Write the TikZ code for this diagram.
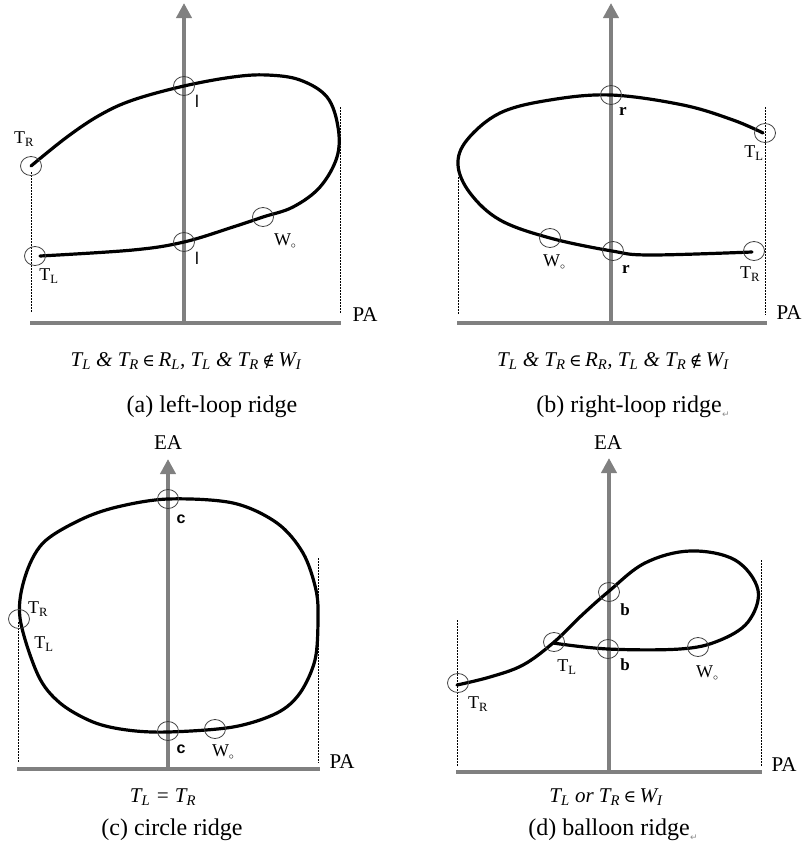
\documentclass[tikz,border=0pt]{standalone}
\usepackage{fontspec}
\setmainfont{Liberation Serif}
\newfontfamily\sansf{Liberation Sans}
\newfontfamily\dejavu{DejaVu Sans}
\newfontfamily\dvserif{DejaVu Serif}
\usetikzlibrary{arrows.meta,shapes.geometric}
\begin{document}
\begin{tikzpicture}[x=1pt,y=-1pt,
  axisline/.style={draw=black!50,line width=4pt},
  axisarrow/.style={axisline,-{Triangle[width=15pt,length=15pt]}},
  ridge/.style={draw=black,line width=3.2pt,line cap=round,line join=round},
  guide/.style={draw=black,line width=0.6pt,dash pattern=on 1.5pt off 1.5pt},
  ringmark/.style={ellipse,draw=black!75,line width=0.8pt,minimum width=21pt,minimum height=19pt,inner sep=0pt},
  lab/.style={font=\fontsize{18}{18}\selectfont,inner sep=0pt},
  axlab/.style={font=\fontsize{21}{21}\selectfont,inner sep=0pt},
  formula/.style={font=\fontsize{21}{21}\selectfont\itshape,inner sep=0pt},
  caption/.style={font=\fontsize{24}{24}\selectfont,inner sep=0pt},
  ret/.style={font=\dejavu\fontsize{9}{9}\selectfont,text=black!45,inner sep=0pt}
]
\useasboundingbox (0,0) rectangle (803,846);
\newcommand{\Wo}{W\raisebox{-0.35ex}{\fontsize{10}{10}\selectfont$\circ$}}
\newcommand{\elin}{\,{\upshape\dvserif\fontsize{17}{17}\selectfont ∈}\,}
\newcommand{\notelin}{\,{\upshape\dvserif\fontsize{17}{17}\selectfont ∉}\,}

%%%%%%%%%%%%%%%% (a) left-loop ridge
\coordinate (aAxT) at (184,3);
\coordinate (aAxB) at (184,323);
\coordinate (aHL) at (30,323);
\coordinate (aHR) at (341,323);
\coordinate (aG1t) at (31,172); \coordinate (aG1b) at (31,313);
\coordinate (aG2t) at (340,107); \coordinate (aG2b) at (340,313);
\draw[guide] (aG1t) -- (aG1b);
\draw[guide] (aG2t) -- (aG2b);
\draw[axisline] (aHL) -- (aHR);
\draw[axisarrow] (aAxB) -- (aAxT);
\node[axlab] (aPA) at (365,315) {PA};
\draw[ridge] plot[smooth,tension=0.6] coordinates {(31,166) (67,137) (100,115) (133,100) (184,86) (233,77) (267,75) (300,80) (327,97) (338,127) (337,157) (320,187) (293,207) (263,217) (233,227) (184,242) (133,250) (40,256)};
\node[ringmark] (aTRc) at (31,166) {};
\node[ringmark] (aTLc) at (35,256) {};
\node[ringmark] (aL1c) at (184,86) {};
\node[ringmark] (aL2c) at (184,242) {};
\node[ringmark] (aWc) at (263,217) {};
\node[lab] (aTR) at (24,139) {T\textsubscript{R}};
\node[lab] (aTL) at (49,276) {T\textsubscript{L}};
\node[lab,font=\sansf\fontsize{17}{17}\selectfont] (aL1) at (197,101) {l};
\node[lab,font=\sansf\fontsize{17}{17}\selectfont] (aL2) at (197,258) {l};
\node[lab] (aW) at (285,241) {\Wo};
\node[formula] (aF) at (186,361) {T\textsubscript{L} \& T\textsubscript{R}\elin R\textsubscript{L}, T\textsubscript{L} \& T\textsubscript{R}\notelin W\textsubscript{I}};
\node[caption] (aC) at (212,407) {(a) left-loop ridge};

%%%%%%%%%%%%%%%% (b) right-loop ridge
\coordinate (bAxT) at (611,3);
\coordinate (bAxB) at (611,323);
\coordinate (bHL) at (457,323);
\coordinate (bHR) at (767,323);
\coordinate (bG1t) at (458,177); \coordinate (bG1b) at (458,315);
\coordinate (bG2t) at (765,107); \coordinate (bG2b) at (765,315);
\draw[guide] (bG1t) -- (bG1b);
\draw[guide] (bG2t) -- (bG2b);
\draw[axisline] (bHL) -- (bHR);
\draw[axisarrow] (bAxB) -- (bAxT);
\node[axlab] (bPA) at (789,313) {PA};
\draw[ridge] plot[smooth,tension=0.6] coordinates {(763,133) (733,120) (683,105) (611,95) (550,100) (500,113) (467,140) (458,165) (470,193) (500,220) (550,238) (612,251) (650,255) (752,252)};
\node[ringmark] (bR1c) at (611,95) {};
\node[ringmark] (bTLc) at (765,133) {};
\node[ringmark] (bWc) at (550,238) {};
\node[ringmark] (bR2c) at (613,251) {};
\node[ringmark] (bTRc) at (754,251) {};
\node[lab,font=\bfseries\fontsize{17}{17}\selectfont] (bR1) at (623,111) {r};
\node[lab,font=\bfseries\fontsize{17}{17}\selectfont] (bR2) at (626,269) {r};
\node[lab] (bTL) at (754,153) {T\textsubscript{L}};
\node[lab] (bW) at (554,262) {\Wo};
\node[lab] (bTR) at (750,274) {T\textsubscript{R}};
\node[formula] (bF) at (613,361) {T\textsubscript{L} \& T\textsubscript{R}\elin R\textsubscript{R}, T\textsubscript{L} \& T\textsubscript{R}\notelin W\textsubscript{I}};
\node[caption] (bC) at (629,407) {(b) right-loop ridge};
\node[ret,anchor=south west] (bRet) at (bC.south east) {↵};

%%%%%%%%%%%%%%%% (c) circle ridge
\coordinate (cAxT) at (168,459);
\coordinate (cAxB) at (168,769);
\coordinate (cHL) at (17,769);
\coordinate (cHR) at (320,769);
\coordinate (cG1t) at (18,622); \coordinate (cG1b) at (18,763);
\coordinate (cG2t) at (318,558); \coordinate (cG2b) at (318,763);
\draw[guide] (cG1t) -- (cG1b);
\draw[guide] (cG2t) -- (cG2b);
\draw[axisline] (cHL) -- (cHR);
\draw[axisarrow] (cAxB) -- (cAxT);
\node[axlab] (cEA) at (168,443) {EA};
\node[axlab] (cPA) at (342,762) {PA};
\draw[ridge] plot[smooth cycle,tension=0.55] coordinates {(20,618) (25,577) (43,543) (80,520) (117,507) (168,499) (233,503) (277,523) (303,553) (316,590) (318,620) (315,660) (300,693) (277,713) (233,727) (168,732) (127,730) (93,722) (60,703) (38,675)};
\node[ringmark] (cTc) at (168,499) {};
\node[ringmark] (cBc) at (168,731) {};
\node[ringmark] (cWc) at (215,729) {};
\node[ringmark] (cLc) at (19,619) {};
\node[lab,font=\sansf\bfseries\fontsize{16}{16}\selectfont] (cC1) at (181,519) {c};
\node[lab,font=\sansf\bfseries\fontsize{16}{16}\selectfont] (cC2) at (181,749) {c};
\node[lab] (cW) at (223,752) {\Wo};
\node[lab] (cTR) at (38,609) {T\textsubscript{R}};
\node[lab] (cTL) at (44,644) {T\textsubscript{L}};
\node[formula] (cF) at (163,797) {T\textsubscript{L} = T\textsubscript{R}};
\node[caption] (cC) at (172,830) {(c) circle ridge};

%%%%%%%%%%%%%%%% (d) balloon ridge
\coordinate (dAxT) at (609,458);
\coordinate (dAxB) at (609,772);
\coordinate (dHL) at (456,772);
\coordinate (dHR) at (762,772);
\coordinate (dG1t) at (457,620); \coordinate (dG1b) at (457,767);
\coordinate (dG2t) at (761,560); \coordinate (dG2b) at (761,767);
\draw[guide] (dG1t) -- (dG1b);
\draw[guide] (dG2t) -- (dG2b);
\draw[axisline] (dHL) -- (dHR);
\draw[axisarrow] (dAxB) -- (dAxT);
\node[axlab] (dEA) at (608,443) {EA};
\node[axlab] (dPA) at (784,765) {PA};
\draw[ridge] plot[smooth,tension=0.6] coordinates {(457,685) (490,677) (523,665) (553,643) (581,616) (608,592) (645,563) (690,551) (735,560) (758,590) (748,622) (718,641) (680,649) (608,649) (553,643)};
\node[ringmark] (dTRc) at (458,683) {};
\node[ringmark] (dTLc) at (554,642) {};
\node[ringmark] (dB1c) at (609,592) {};
\node[ringmark] (dB2c) at (608,649) {};
\node[ringmark] (dWc) at (698,647) {};
\node[lab,font=\bfseries\fontsize{17}{17}\selectfont] (dB1) at (625,610) {b};
\node[lab,font=\bfseries\fontsize{17}{17}\selectfont] (dB2) at (625,665) {b};
\node[lab] (dTL) at (567,667) {T\textsubscript{L}};
\node[lab] (dW) at (707,673) {\Wo};
\node[lab] (dTR) at (478,704) {T\textsubscript{R}};
\node[formula] (dF) at (606,797) {T\textsubscript{L} or T\textsubscript{R}\elin W\textsubscript{I}};
\node[caption] (dC) at (609,830) {(d) balloon ridge};
\node[ret,anchor=south west] (dRet) at (dC.south east) {↵};
\end{tikzpicture}
\end{document}
